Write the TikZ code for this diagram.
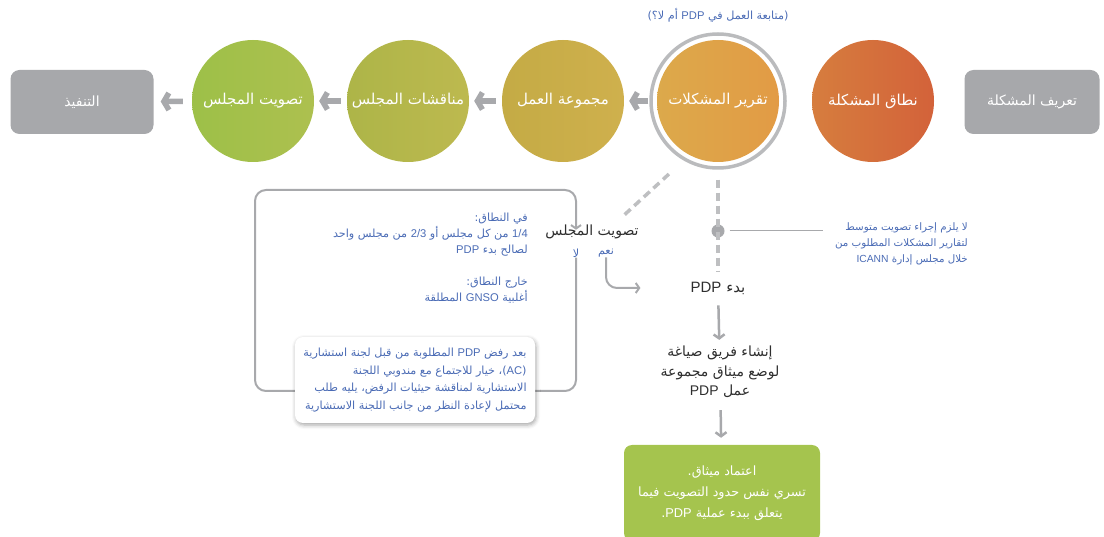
\documentclass[tikz,border=0pt]{standalone}
\usepackage{fontspec}
\setmainfont{Liberation Sans}
\newfontfamily\arabicfont[Script=Arabic]{DejaVu Sans}
\newfontfamily\latinfont{Liberation Sans}
\TeXXeTstate=1
\usetikzlibrary{arrows.meta,positioning,shadows.blur}

\definecolor{boxgray}{HTML}{A7A8AB}
\definecolor{linegray}{HTML}{A8A9AC}
\definecolor{dashgray}{HTML}{BEBFC1}
\definecolor{ringgray}{HTML}{BABBBD}
\definecolor{noteblue}{HTML}{4A6BB5}
\definecolor{inkgray}{HTML}{2E2E2E}
\definecolor{chartergreen}{HTML}{A5C44E}
\definecolor{scopeL}{HTML}{D67D3E}
\definecolor{scopeR}{HTML}{D3623A}
\definecolor{reportL}{HTML}{DCA94B}
\definecolor{reportR}{HTML}{E29B45}
\definecolor{groupL}{HTML}{C4AB45}
\definecolor{groupR}{HTML}{CFB04D}
\definecolor{debateL}{HTML}{ADB548}
\definecolor{debateR}{HTML}{BDB94F}
\definecolor{voteL}{HTML}{9DC048}
\definecolor{voteR}{HTML}{ADC04F}

\newcommand\ar[1]{{\arabicfont\beginR #1\endR}}
\newcommand\lat[1]{\beginL{\latinfont #1}\endL}

\begin{document}
\begin{tikzpicture}[x=1pt, y=-1pt, node distance=155pt,
    stage/.style={circle, minimum size=122pt, inner sep=0pt, text=white, font=\fontsize{15}{18}\selectfont},
    endbox/.style={rounded corners=9pt, fill=boxgray, minimum width=143pt, minimum height=64pt, text=white, font=\fontsize{14}{16}\selectfont},
    ring/.style={circle, draw=ringgray, line width=3.5pt, minimum size=134pt, inner sep=0pt},
    flow/.style={draw=linegray, line width=5.5pt, -{Straight Barb[length=5pt,width=17pt]}, shorten >=5pt, shorten <=6pt},
    down/.style={draw=linegray, line width=2.5pt, -{Straight Barb[length=4pt,width=11pt]}},
    loopline/.style={draw=linegray, line width=2pt, rounded corners=11pt, -{Straight Barb[length=3.5pt,width=10pt]}},
    dashline/.style={draw=dashgray, line width=3.5pt, dash pattern=on 8pt off 5pt},
    bluenote/.style={text=noteblue, font=\fontsize{11.2}{16}\selectfont, align=right, inner sep=0pt},
    plain/.style={text=inkgray, font=\fontsize{14}{19.5}\selectfont, align=center, inner sep=2pt},
    dot/.style={circle, fill=linegray, minimum size=13pt, inner sep=0pt},
    acbox/.style={bluenote, fill=white, rounded corners=8pt, minimum width=240pt, minimum height=86pt,
                  font=\fontsize{11.2}{17.5}\selectfont,
                  blur shadow={shadow xshift=1pt, shadow yshift=-2pt, shadow blur radius=4pt, shadow opacity=35}},
    charter/.style={fill=chartergreen, rounded corners=8pt, minimum width=196pt, minimum height=96pt,
                    text=white, align=center, font=\fontsize{12.8}{21}\selectfont}]
  \useasboundingbox (0,0) rectangle (1104,537);

  % top row of stages
  \node[stage, left color=scopeL, right color=scopeR]   (c5) at (873,101) {\ar{نطاق المشكلة}};
  \node[stage, left color=reportL, right color=reportR] (c4) [left of=c5] {\ar{تقرير المشكلات}};
  \node[stage, left color=groupL, right color=groupR]   (c3) [left of=c4] {\ar{مجموعة العمل}};
  \node[stage, left color=debateL, right color=debateR] (c2) [left of=c3] {\ar{مناقشات المجلس}};
  \node[stage, left color=voteL, right color=voteR]     (c1) [left of=c2] {\ar{تصويت المجلس}};
  \node[ring] (ring) at (c4) {};
  \node[endbox, minimum width=135pt] (define) at (1032,102) {\ar{تعريف المشكلة}};
  \node[endbox] (impl) at (82,102) {\ar{التنفيذ}};
  \node[bluenote] (question) at (718,15) {\ar{(متابعة العمل في \lat{PDP} أم لا؟)}};

  \path[flow] (ring) edge [shorten <=1pt] (c3)
              (c3)   edge (c2)
              (c2)   edge (c1)
              (c1)   edge [shorten >=7pt, shorten <=9pt] (impl);

  % council vote branch
  \node[plain] (vote) at (592,232) {\ar{تصويت المجلس}};
  \node[bluenote] (no)  at (576,253) {\ar{لا}};
  \node[bluenote] (yes) at (606,253) {\ar{نعم}};
  \coordinate (loopbl) at (255,391);
  \coordinate (looptl) at (255,190);

  \node[bluenote, anchor=north east] (scope) at (528,213)
    {\ar{في النطاق:}\\
     \ar{\lat{1/4} من كل مجلس أو \lat{2/3} من مجلس واحد}\\
     \ar{لصالح بدء \lat{PDP}}\\[16pt]
     \ar{خارج النطاق:}\\
     \ar{أغلبية \lat{GNSO} المطلقة}};

  \draw[loopline] (no.south) |- (loopbl) -- (looptl) -| ([yshift=-7pt]vote.north -| no);

  \node[acbox] (ac) at (415,380)
    {\ar{بعد رفض \lat{PDP} المطلوبة من قبل لجنة استشارية}\\
     \ar{(\lat{AC})، خيار للاجتماع مع مندوبي اللجنة}\\
     \ar{الاستشارية لمناقشة حيثيات الرفض، يليه طلب}\\
     \ar{محتمل لإعادة النظر من جانب اللجنة الاستشارية}};

  % PDP launch column
  \node[plain, font=\fontsize{15}{18}\selectfont] (start) at (718,288) {\ar{بدء \lat{PDP}}};
  \node[plain] (team) at (720,372)
    {\ar{إنشاء فريق صياغة}\\ \ar{لوضع ميثاق مجموعة}\\ \ar{عمل \lat{PDP}}};
  \node[charter] (charter) at (722,493)
    {\ar{اعتماد ميثاق.}\\ \ar{تسري نفس حدود التصويت فيما}\\ \ar{يتعلق ببدء عملية \lat{PDP}.}};
  \node[dot] (dot) at (718,231) {};
  \node[bluenote, font=\fontsize{10.3}{16}\selectfont, anchor=north east] (note) at (968,222)
    {\ar{لا يلزم إجراء تصويت متوسط}\\
     \ar{لتقارير المشكلات المطلوب من}\\
     \ar{خلال مجلس إدارة \lat{ICANN}}};

  \draw[loopline] (yes.south) |- ([xshift=-48pt]start.west);
  \draw[dashline, shorten <=20pt, shorten >=8pt] (ring.240) -- ([xshift=-25pt]vote.north east);
  \draw[dashline, shorten <=10pt, shorten >=8pt] (ring.south) -- (start.north);
  \draw[linegray, line width=1pt, shorten <=5pt, shorten >=12pt] (dot) -- (note.west |- dot);
  \path[down] (start) edge [shorten <=9pt, shorten >=4pt] (team)
              (team)  edge [shorten <=10pt, shorten >=7pt] (charter);
\end{tikzpicture}
\end{document}
